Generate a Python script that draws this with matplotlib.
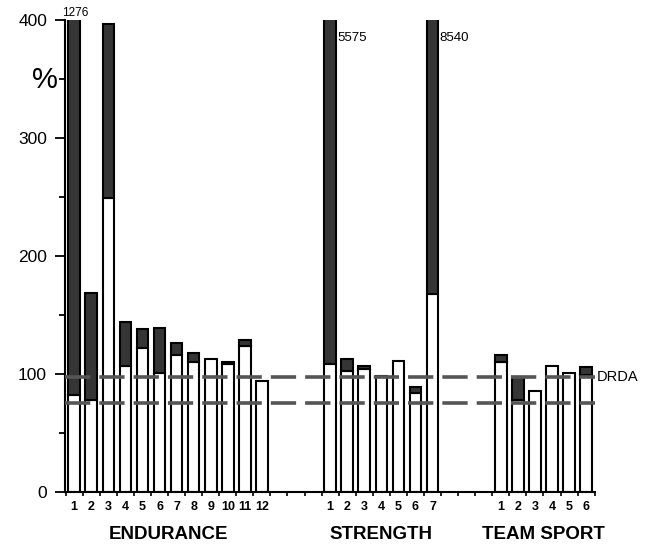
import numpy as np
import matplotlib.pyplot as plt

plt.rcParams['font.family'] = ['Liberation Sans', 'DejaVu Sans']

# white part = value up to the first bar, dark part = excess up to total (%)
end_white = [82, 78, 249, 107, 122, 101, 116, 110, 113, 108, 124, 94]
end_total = [1276, 169, 397, 144, 138, 139, 126, 118, 113, 110, 129, 94]
str_white = [108, 102, 104, 98, 111, 84, 168]
str_total = [5575, 113, 107, 98, 111, 89, 8540]
team_white = [110, 78, 85, 107, 101, 99]
team_total = [116, 97, 85, 107, 101, 106]

group_names = ['ENDURANCE', 'STRENGTH', 'TEAM SPORT']
drda_low, drda_high = 75, 97

groups = [
    (np.arange(0, 12), end_white, end_total),
    (np.arange(15, 22), str_white, str_total),
    (np.arange(25, 31), team_white, team_total),
]

fig = plt.figure(figsize=(6.45, 5.53), dpi=100)
ax = fig.add_axes([0.101, 0.111, 0.822, 0.852])

dark = '#353535'
for pos, white, total in groups:
    white = np.array(white)
    total = np.array(total)
    ax.bar(pos, white, width=0.68, color='white', edgecolor='black',
           linewidth=1.5, zorder=2)
    extra = total - white
    m = extra > 0
    ax.bar(pos[m], extra[m], bottom=white[m], width=0.68, color=dark,
           edgecolor='black', linewidth=1.5, zorder=2)

# DRDA band
for y in (drda_low, drda_high):
    ax.axhline(y, color='#555555', linewidth=2.6, dashes=(7, 2.5), zorder=3)
ax.text(30.65, drda_high, 'DRDA', ha='left', va='center', fontsize=10.5,
        clip_on=False)

# values of bars that run off the top
big = [(0, 1276), (15, 5575), (21, 8540)]
for x, v in big:
    if x == 0:
        ax.text(x + 0.05, 401, str(v), ha='center', va='bottom', fontsize=8.5)
    else:
        ax.text(x + 0.42, 390, str(v), ha='left', va='top', fontsize=9.5)

ax.set_xlim(-0.53, 30.54)
ax.set_ylim(0, 400)

ax.spines['top'].set_visible(False)
ax.spines['right'].set_visible(False)
ax.spines['left'].set_linewidth(1.5)
ax.spines['bottom'].set_linewidth(1.5)

ax.set_yticks([0, 100, 200, 300, 400])
ax.set_yticks([50, 150, 250, 350], minor=True)
ax.tick_params(axis='y', which='major', length=7, width=1.3, labelsize=12.5, pad=6)
ax.tick_params(axis='y', which='minor', length=4, width=1.3)

xt = np.concatenate([g[0] for g in groups])
xl = [str(i + 1) for g in groups for i in range(len(g[0]))]
ax.set_xticks(xt)
ax.set_xticklabels(xl, fontweight='bold', fontsize=9)
ax.set_xticks(np.arange(-0.5, 31, 1.0), minor=True)
ax.tick_params(axis='x', which='major', length=0, pad=7)
ax.tick_params(axis='x', which='minor', length=3, width=1.2)

fig.text(45 / 645, 1 - 80 / 553, '%', fontsize=21, ha='center', va='center')

for (pos, _, _), name in zip(groups, group_names):
    ax.text(pos.mean(), -0.092, name, transform=ax.get_xaxis_transform(),
            ha='center', va='center', fontsize=13.5, fontweight='bold')

fig.savefig('out.png', dpi=100)
